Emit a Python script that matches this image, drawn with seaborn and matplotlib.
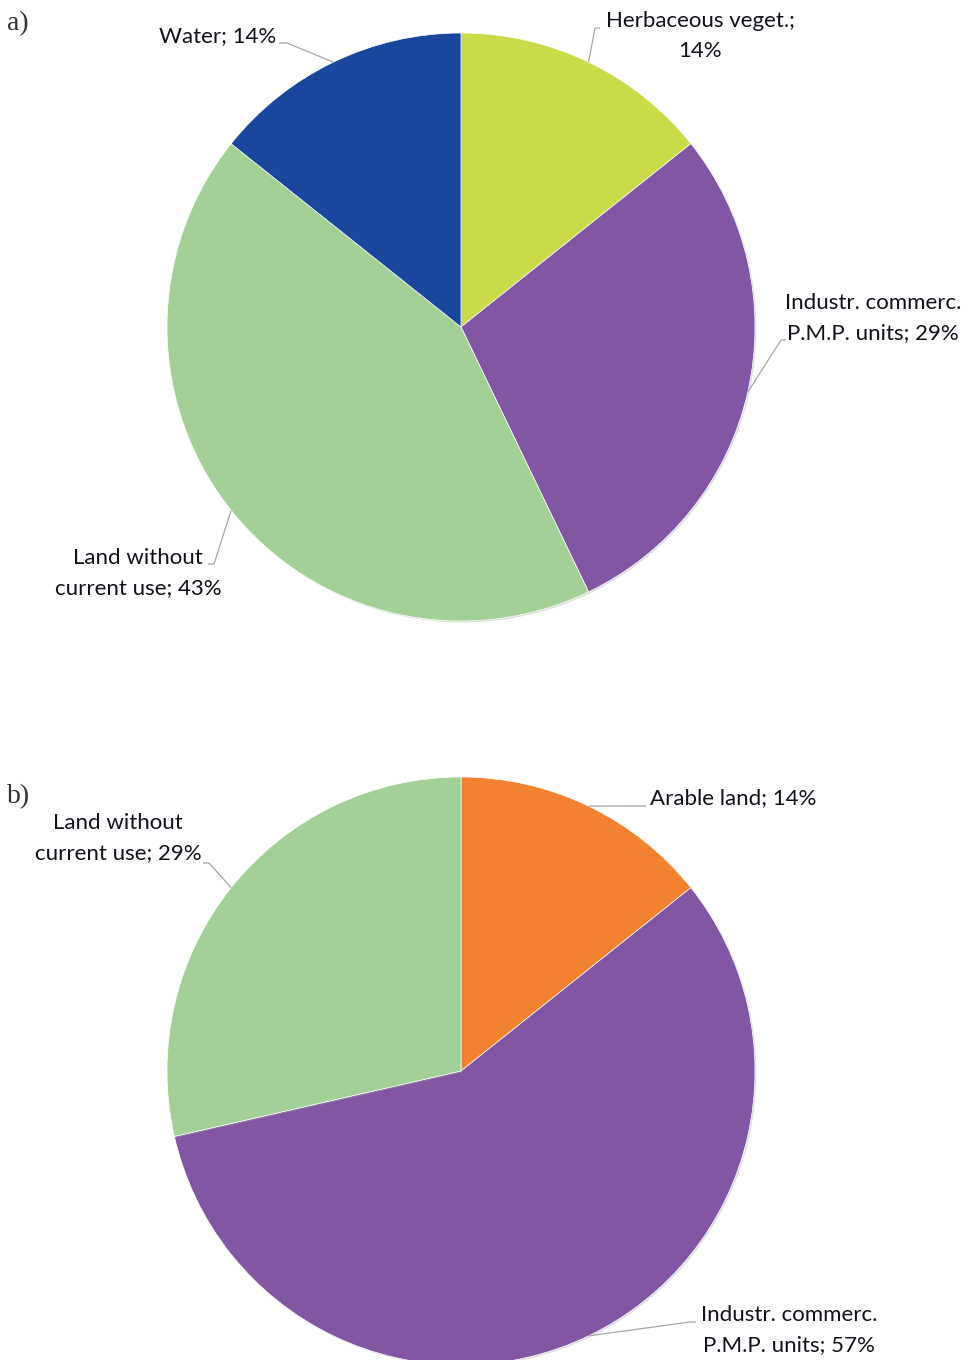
import numpy as np
import matplotlib
matplotlib.use("Agg")
import matplotlib.pyplot as plt
import matplotlib.patheffects as pe
import seaborn as sns

# ---- data ----
a_labels = ["Herbaceous veget.", "Industr. commerc.\nP.M.P. units", "Land without\ncurrent use", "Water"]
a_values = [1, 2, 3, 1]
a_pcts = ["14%", "29%", "43%", "14%"]
a_colors = ["#C9DB48", "#8157A4", "#A3D097", "#18479C"]

b_labels = ["Arable land", "Industr. commerc.\nP.M.P. units", "Land without\ncurrent use"]
b_values = [1, 4, 2]
b_pcts = ["14%", "57%", "29%"]
b_colors = ["#F2822F", "#8157A4", "#A3D097"]

sns.set_theme(style="white")
plt.rcParams['font.family'] = ['Lato', 'DejaVu Sans']

W, H = 968, 1360
fig = plt.figure(figsize=(W / 100, H / 100), dpi=100)
ax = fig.add_axes([0, 0, 1, 1])
ax.set_xlim(0, W)
ax.set_ylim(0, H)
ax.axis("off")

R = 294
FS = 16
TXT = "#10131c"


def draw_pie(center, values, colors):
    wedges, _ = ax.pie(values, colors=colors, startangle=90, counterclock=False,
                       center=center, radius=R, frame=True,
                       wedgeprops=dict(edgecolor="white", linewidth=0.5))
    for w in wedges:
        w.set_path_effects([pe.SimplePatchShadow(offset=(1, -1), shadow_rgbFace="#aaaaaa", alpha=0.4),
                            pe.Normal()])
    tot = sum(values)
    cum = np.cumsum([0] + list(values))
    mids = [90 - 360 * (cum[i] + values[i] / 2) / tot for i in range(len(values))]
    return wedges, mids


def edge_pt(center, ang):
    t = np.deg2rad(ang)
    return center[0] + R * np.cos(t), center[1] + R * np.sin(t)


def label(center, ang, elbow, stub, text, tx, ty, ha="center"):
    x0, y0 = edge_pt(center, ang)
    ax.plot([x0, elbow[0], stub[0]], [y0, elbow[1], stub[1]], color="#a6a6a6", lw=0.9,
            solid_capstyle="butt", zorder=5)
    ax.text(tx, ty, text, ha=ha, va="center", fontsize=FS, color=TXT, linespacing=1.6, zorder=6)


# ---- pie a ----
ca = (461, H - 327)
wa, ma = draw_pie(ca, a_values, a_colors)
label(ca, ma[0], (595, H - 28), (600, H - 28), f"{a_labels[0]};\n{a_pcts[0]}", 700, H - 36)
label(ca, ma[1], (781, H - 340), (786, H - 340), f"{a_labels[1]}; {a_pcts[1]}", 873, H - 318)
label(ca, ma[2], (214, H - 564), (208, H - 564), f"{a_labels[2]}; {a_pcts[2]}", 138, H - 573)
label(ca, ma[3], (287, H - 43), (279, H - 43), f"{a_labels[3]}; {a_pcts[3]}", 218, H - 36)

# ---- pie b ----
cb = (461, H - 1071)
wb, mb = draw_pie(cb, b_values, b_colors)
label(cb, mb[0], (640, H - 806), (646, H - 806), f"{b_labels[0]}; {b_pcts[0]}", 733, H - 798)
label(cb, mb[1], (690, H - 1322), (696, H - 1322), f"{b_labels[1]}; {b_pcts[1]}", 789, H - 1330)
label(cb, mb[2], (209, H - 863), (203, H - 863), f"{b_labels[2]}; {b_pcts[2]}", 118, H - 838)

ax.set_xlim(0, W)
ax.set_ylim(0, H)
ax.set_aspect("equal")

ax.text(7, H - 24, "a)", fontsize=20, family=["Liberation Serif"], color="#333333", va="center", ha="left")
ax.text(7, H - 797, "b)", fontsize=20, family=["Liberation Serif"], color="#333333", va="center", ha="left")

fig.savefig("out.png", dpi=100, facecolor="white")
